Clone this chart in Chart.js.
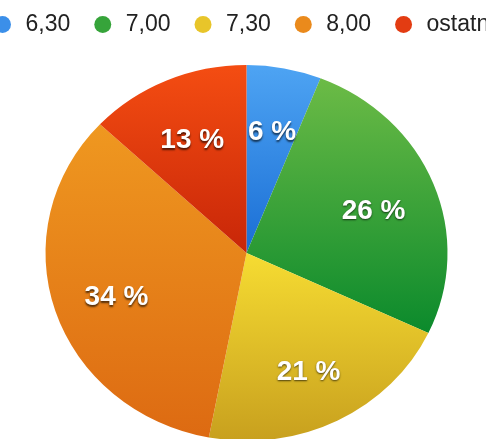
<!DOCTYPE html>
<html>
<head>
<meta charset="utf-8">
<script src="https://cdn.jsdelivr.net/npm/chart.js@4"></script>
<style>
  html, body { margin: 0; padding: 0; background: #fff; overflow: hidden; }
  #frame { position: relative; width: 486px; height: 439px; overflow: hidden; }
  #box { position: absolute; left: -30px; top: -8px; width: 553px; height: 468px; }
</style>
</head>
<body>
<div id="frame"><div id="box"><canvas id="pieChart"></canvas></div></div>
<script>
const categories = ["6,30", "7,00", "7,30", "8,00", "ostatní"];
const shares = [6, 26, 21, 34, 13];
const legendColors = ["#3b8fe9", "#36a43a", "#e8c52a", "#ea8a1c", "#e33c12"];
const topColors = ["#4ea4f3", "#6cbb46", "#f6dc32", "#ef9820", "#f44d12"];
const bottomColors = ["#1a6ed5", "#0b8a2c", "#c8a01e", "#dd6a12", "#c82608"];

const PIE_RADIUS = 201;
const SQUASH = 0.935; // the source pie is a bit flattened

// vertical gradient for each wedge, from its own top to its own bottom
function sliceGradient(context) {
  const chart = context.chart;
  const area = chart.chartArea;
  const i = context.dataIndex;
  if (!area || i === undefined) return legendColors[i] || "#999";
  const total = shares.reduce((a, b) => a + b, 0);
  let before = 0;
  for (let k = 0; k < i; k++) before += shares[k];
  const a0 = -Math.PI / 2 + 2 * Math.PI * before / total;
  const a1 = a0 + 2 * Math.PI * shares[i] / total;
  const cy = (area.top + area.bottom) / 2;
  const ys = [cy, cy + PIE_RADIUS * Math.sin(a0), cy + PIE_RADIUS * Math.sin(a1)];
  if (a0 <= Math.PI / 2 && a1 >= Math.PI / 2) ys.push(cy + PIE_RADIUS);
  if (a0 <= -Math.PI / 2 + 1e-6 || a1 >= 1.5 * Math.PI - 1e-6) ys.push(cy - PIE_RADIUS);
  const g = chart.ctx.createLinearGradient(0, Math.min(...ys), 0, Math.max(...ys));
  g.addColorStop(0, topColors[i]);
  g.addColorStop(1, bottomColors[i]);
  return g;
}

const flattenAndLabel = {
  id: "flattenAndLabel",
  beforeDatasetsDraw(chart) {
    const arc = chart.getDatasetMeta(0).data[0];
    const ctx = chart.ctx;
    ctx.save();
    ctx.translate(arc.x, arc.y);
    ctx.scale(1, SQUASH);
    ctx.translate(-arc.x, -arc.y);
  },
  afterDatasetsDraw(chart) {
    const ctx = chart.ctx;
    ctx.restore();
    ctx.save();
    ctx.font = "bold 28px 'Liberation Sans', Arial, sans-serif";
    ctx.textAlign = "center";
    ctx.textBaseline = "middle";
    ctx.fillStyle = "#ffffff";
    ctx.shadowColor = "rgba(0,0,0,0.65)";
    ctx.shadowBlur = 2;
    ctx.shadowOffsetY = 1.5;
    chart.getDatasetMeta(0).data.forEach((el, i) => {
      const p = el.getProps(["x", "y", "startAngle", "endAngle", "outerRadius"], true);
      const mid = (p.startAngle + p.endAngle) / 2;
      const r = p.outerRadius * 0.68;
      ctx.fillText(shares[i] + " %", p.x + Math.cos(mid) * r, p.y + 5 + Math.sin(mid) * r * SQUASH);
    });
    ctx.restore();
  }
};

new Chart(document.getElementById("pieChart"), {
  type: "pie",
  data: {
    labels: categories,
    datasets: [
      {
        data: shares,
        backgroundColor: sliceGradient,
        borderWidth: 0,
        radius: PIE_RADIUS,
        hoverOffset: 0,
      },
    ],
  },
  options: {
    responsive: true,
    maintainAspectRatio: false,
    animation: false,
    layout: { padding: 0 },
    plugins: {
      tooltip: { enabled: false },
      legend: {
        position: "top",
        align: "start",
        labels: {
          usePointStyle: true,
          pointStyle: "circle",
          boxWidth: 23,
          boxHeight: 12,
          padding: 21,
          color: "#222222",
          font: { size: 23, family: "'Liberation Sans', Arial, sans-serif" },
          generateLabels(chart) {
            const items = Chart.overrides.doughnut.plugins.legend.labels.generateLabels(chart);
            items.forEach((it, i) => {
              it.fillStyle = legendColors[i];
              it.strokeStyle = legendColors[i];
              it.lineWidth = 0;
            });
            return items;
          },
        },
      },
    },
  },
  plugins: [flattenAndLabel],
});
</script>
</body>
</html>
